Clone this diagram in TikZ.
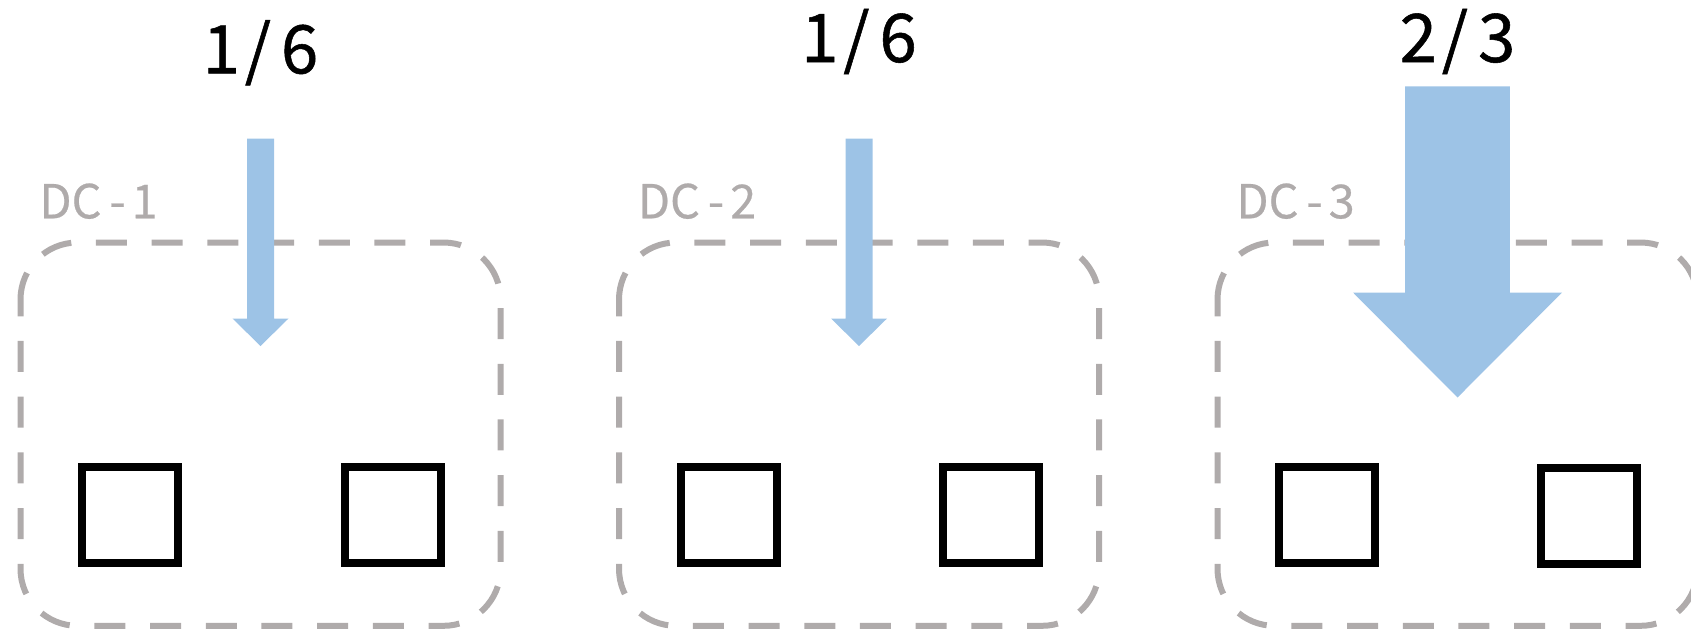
\documentclass[tikz,border=0pt]{standalone}
\usepackage{fontspec}
\newfontfamily\sharefont[FakeBold=0.8]{Noto Sans CJK SC}
\newfontfamily\namefont[FakeBold=0.5]{Noto Sans CJK SC}
\definecolor{framegray}{HTML}{AFABAB}
\definecolor{flowblue}{HTML}{9DC3E6}

\begin{document}
\begin{tikzpicture}[x=0.5pt,y=-0.5pt,
  dcframe/.style={draw=framegray, line width=3pt,
    dash pattern=on 15.5pt off 12.35pt, dash phase=1.7pt},
  server/.style={draw=black, line width=4pt, minimum width=48pt,
    minimum height=48pt, inner sep=0pt, outer sep=0pt},
  share/.style={font=\sharefont\fontsize{33.5}{34}\selectfont,
    inner sep=0pt, anchor=base},
  dcname/.style={font=\namefont\fontsize{23.4}{24}\selectfont,
    text=framegray, inner sep=0pt, anchor=base west},
  flow/.style={fill=flowblue, draw=none}]

\useasboundingbox (0,0) rectangle (1691,629);
\clip (0,0) rectangle (1691,629);

% dashed data-centre outlines (rounded corners, radius 57)
\foreach \cx in {260.5, 859, 1457.5} {
  \draw[dcframe]
    ({\cx-240},299.5) .. controls ({\cx-240},268) and ({\cx-214.5},242.5) .. ({\cx-183},242.5)
    -- ({\cx+183},242.5) .. controls ({\cx+214.5},242.5) and ({\cx+240},268) .. ({\cx+240},299.5)
    -- ({\cx+240},568.8) .. controls ({\cx+240},600.3) and ({\cx+214.5},625.8) .. ({\cx+183},625.8)
    -- ({\cx-183},625.8) .. controls ({\cx-214.5},625.8) and ({\cx-240},600.3) .. ({\cx-240},568.8)
    -- cycle;
}

% data-centre names
\node[dcname] (dc1) at (39,218.3) {DC\kern4pt-\kern3pt1};
\node[dcname] (dc2) at (637.5,218.3) {DC\kern4pt-\kern3pt2};
\node[dcname] (dc3) at (1236,218.3) {DC\kern4pt-\kern3pt3};

% servers
\node[server] (s11) at (129.7,514.7) {};
\node[server] (s12) at (392.8,514.7) {};
\node[server] (s21) at (728.9,514.7) {};
\node[server] (s22) at (991.2,514.7) {};
\node[server] (s31) at (1327,514.7) {};
\node[server] (s32) at (1589,516.3) {};

% traffic shares
\node[share] (f1) at (260.5,73.3) {1\kern2.5pt/\kern5pt6};
\node[share] (f2) at (859,62) {1\kern2.5pt/\kern5pt6};
\node[share] (f3) at (1457.5,62) {2\kern2.5pt/\kern5pt3};

% traffic arrows
\fill[flow] (247,138.5) -- (274,138.5) -- (274,318.5) -- (288.5,318.5)
  -- (260.5,346) -- (232.5,318.5) -- (247,318.5) -- cycle;
\fill[flow] (845.5,138.5) -- (872.5,138.5) -- (872.5,318.5) -- (887,318.5)
  -- (859,346) -- (831,318.5) -- (845.5,318.5) -- cycle;
\fill[flow] (1405.2,86.3) -- (1509.8,86.3) -- (1509.8,292.5) -- (1562,292.5)
  -- (1457.5,397.5) -- (1353,292.5) -- (1405.2,292.5) -- cycle;
\end{tikzpicture}
\end{document}
